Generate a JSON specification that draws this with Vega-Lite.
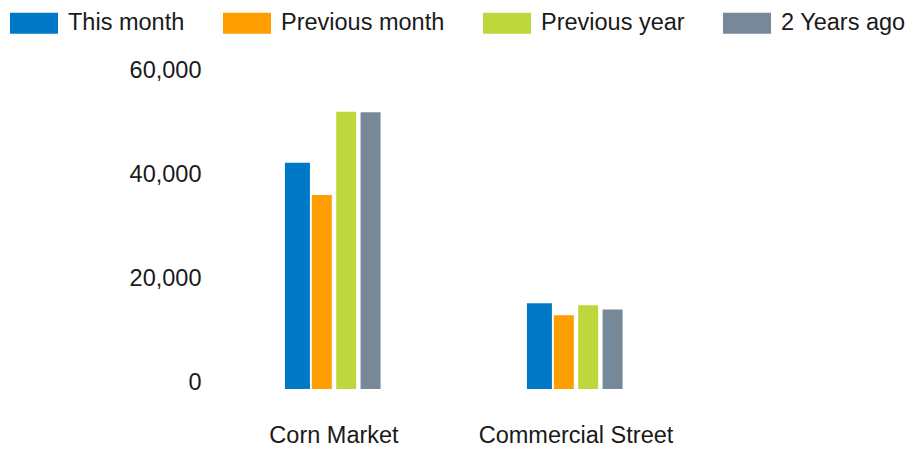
{
  "$schema": "https://vega.github.io/schema/vega-lite/v6.json",
  "autosize": "none",
  "width": 484,
  "height": 312,
  "padding": {"left": 213, "top": 77, "right": 211, "bottom": 61},
  "background": "white",
  "config": {
    "view": {"stroke": null},
    "font": "Liberation Sans"
  },
  "data": {
    "values": [
      {"location": "Corn Market", "series": "This month", "value": 43500},
      {"location": "Corn Market", "series": "Previous month", "value": 37300},
      {"location": "Corn Market", "series": "Previous year", "value": 53300},
      {"location": "Corn Market", "series": "2 Years ago", "value": 53200},
      {"location": "Commercial Street", "series": "This month", "value": 16500},
      {"location": "Commercial Street", "series": "Previous month", "value": 14200},
      {"location": "Commercial Street", "series": "Previous year", "value": 16100},
      {"location": "Commercial Street", "series": "2 Years ago", "value": 15300}
    ]
  },
  "encoding": {
    "x": {
      "field": "location",
      "type": "nominal",
      "sort": ["Corn Market", "Commercial Street"],
      "scale": {"paddingInner": 0.597, "paddingOuter": 0.2985},
      "axis": {
        "title": null,
        "labelAngle": 0,
        "domain": false,
        "ticks": false,
        "labelPadding": 34,
        "labelBaseline": "top",
        "labelFontSize": 23.5,
        "labelColor": "#1a1a1a",
        "labelLimit": 400
      }
    },
    "xOffset": {
      "field": "series",
      "type": "nominal",
      "scale": {
        "domain": ["This month", "Previous month", "Previous year", "2 Years ago"],
        "paddingInner": 0, "paddingOuter": 0
      }
    },
    "y": {
      "field": "value",
      "type": "quantitative",
      "scale": {"domain": [0, 60000], "nice": false},
      "axis": {
        "title": null,
        "values": [0, 20000, 40000, 60000],
        "format": ",.0f",
        "domain": false,
        "ticks": false,
        "grid": false,
        "labelPadding": 12,
        "labelBaseline": "alphabetic",
        "labelFontSize": 23.5,
        "labelColor": "#1a1a1a"
      }
    },
    "color": {
      "field": "series",
      "type": "nominal",
      "scale": {
        "domain": ["This month", "Previous month", "Previous year", "2 Years ago"],
        "range": ["#0078C8", "#FF9E00", "#BED73C", "#778899"]
      },
      "legend": {
        "title": null,
        "orient": "none",
        "direction": "horizontal",
        "legendX": -203,
        "legendY": -78,
        "symbolType": "M-1,-0.4375H1V0.4375H-1Z",
        "symbolSize": 2304,
        "symbolStrokeWidth": 0,
        "symbolOpacity": 1,
        "labelFontSize": 23.5,
        "labelColor": "#1a1a1a",
        "labelOffset": 10,
        "columnPadding": 38,
        "labelLimit": 300
      }
    }
  },
  "layer": [
    {
      "transform": [{"filter": "datum.series === 'This month'"}],
      "mark": {"type": "bar", "width": 25}
    },
    {
      "transform": [{"filter": "datum.series !== 'This month'"}],
      "mark": {"type": "bar", "width": 20}
    }
  ]
}
